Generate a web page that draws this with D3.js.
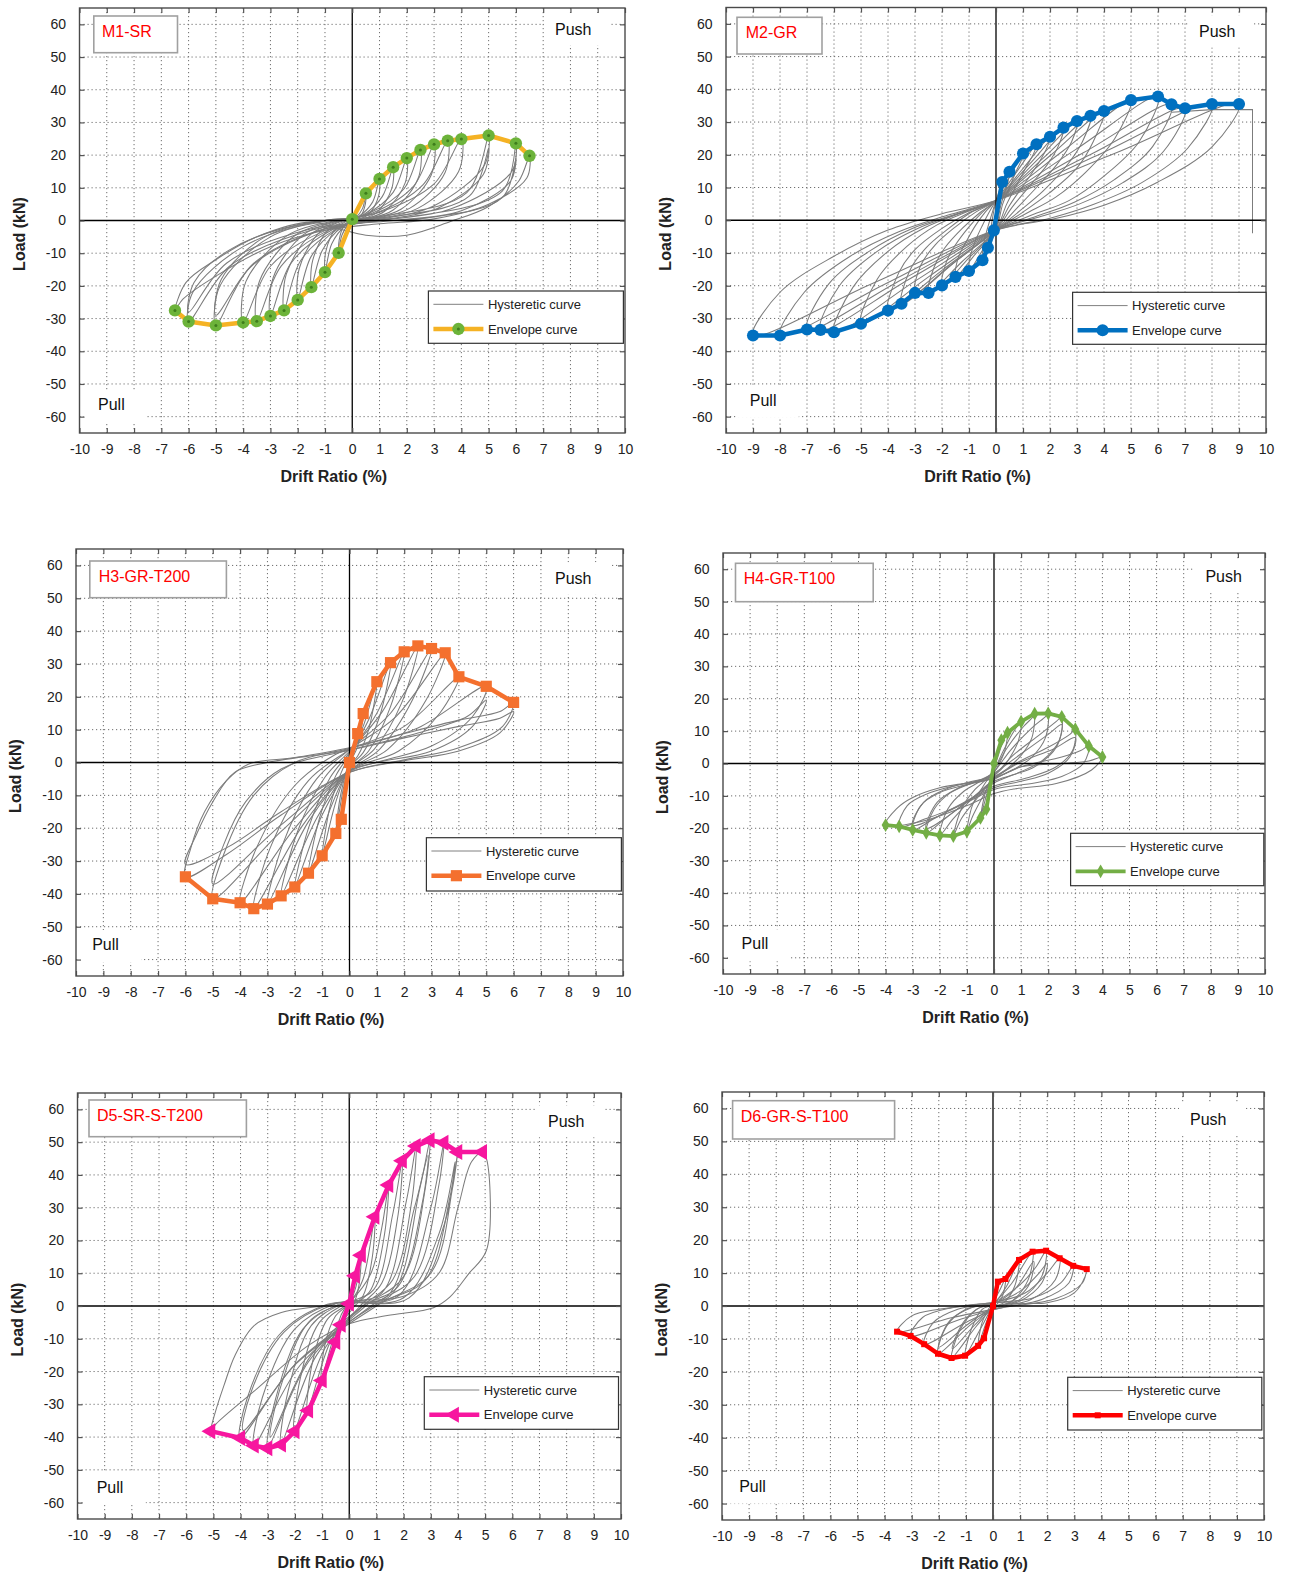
<!DOCTYPE html>
<html>
<head>
<meta charset="utf-8">
<script src="https://cdn.jsdelivr.net/npm/d3@7"></script>
<style>
  body { margin: 0; background: #fff; }
  svg { display: block; font-family: "Liberation Sans", Arial, sans-serif; }
</style>
</head>
<body>
<svg id="chart" width="1290" height="1578"></svg>
<script>
// ---- axis ticks ----
const driftTicks = [-10,-9,-8,-7,-6,-5,-4,-3,-2,-1,0,1,2,3,4,5,6,7,8,9,10];
const loadTicks = [-60,-50,-40,-30,-20,-10,0,10,20,30,40,50,60];

// ---- envelope curves (drift %, load kN) ----
const m1Drift = [-6.5,-6,-5,-4,-3.5,-3,-2.5,-2,-1.5,-1,-0.5,0,0.5,1,1.5,2,2.5,3,3.5,4,5,6,6.5];
const m1Load  = [-27.5,-30.9,-32.1,-31.2,-30.8,-29.2,-27.5,-24.3,-20.4,-15.8,-9.9,0.4,8.3,12.7,16.3,19.1,21.6,23.3,24.4,24.9,26,23.6,19.8];

const m2Drift = [-9,-8,-7,-6.5,-6,-5,-4,-3.5,-3,-2.5,-2,-1.5,-1,-0.5,-0.3,-0.08,0.23,0.5,1,1.5,2,2.5,3,3.5,4,5,6,6.5,7,8,9];
const m2Load  = [-35.2,-35.2,-33.4,-33.5,-34.2,-31.6,-27.6,-25.5,-22.2,-22.2,-19.9,-17.3,-15.5,-12.2,-8.4,-3.1,11.7,14.8,20.4,23.2,25.5,28.3,30.3,31.9,33.4,36.7,37.8,35.4,34.2,35.5,35.5];

const h3Drift = [-6,-5,-4,-3.5,-3,-2.5,-2,-1.5,-1,-0.5,-0.3,0,0.3,0.5,1,1.5,2,2.5,3,3.5,4,5,6];
const h3Load  = [-34.8,-41.5,-42.7,-44.5,-43.1,-40.6,-37.9,-33.7,-28.4,-21.6,-17.3,0,8.8,14.9,24.6,30.4,33.7,35.5,34.7,33.4,26.1,23.2,18.3];

const h4Drift = [-4,-3.5,-3,-2.5,-2,-1.5,-1,-0.5,-0.28,0,0.27,0.5,1,1.5,2,2.5,3,3.5,4];
const h4Load  = [-19,-19.4,-20.5,-21.4,-22.2,-22.4,-21,-16.8,-14.1,0,7.2,9.5,12.9,15.4,15.5,14.4,10.6,5.4,2];

const d5Drift = [-5.1,-4,-3.5,-3,-2.5,-2,-1.5,-1,-0.5,-0.3,0,0.22,0.44,0.94,1.45,1.95,2.46,2.97,3.48,3.99,4.9];
const d5Load  = [-38.2,-40.3,-42.6,-43.4,-42.3,-38.2,-31.9,-22.7,-11,-5.7,0.7,9.2,15.5,27.2,36.9,44.3,48.8,50.6,49.8,47,47];

const d6Drift = [-3.54,-3.04,-2.54,-2.03,-1.53,-1.03,-0.55,-0.33,0,0.18,0.46,0.96,1.46,1.96,2.46,2.96,3.46];
const d6Load  = [-7.8,-9.1,-11.6,-14.5,-15.8,-15.1,-12.1,-9.8,0,7.4,8.2,14,16.5,16.8,14.5,12.2,11.2];

// ---- hysteretic loops: one closed loop per load cycle, [drift, load] vertices ----
const m1Loops = [
  [[0.5,8.3],[0.48,5],[0.3,1.2],[0.08,0],[-0.12,-1],[-0.38,-4.5],[-0.5,-9.9],[-0.48,-6],[-0.3,-1.5],[-0.08,0],[0.12,0.8],[0.38,3.7]],
  [[1,12.7],[0.97,7.6],[0.6,1.9],[0.15,0],[-0.25,-1.6],[-0.75,-7.1],[-1,-15.8],[-0.97,-9.5],[-0.6,-2.4],[-0.15,0],[0.25,1.3],[0.75,5.7]],
  [[1.5,16.3],[1.45,9.8],[0.9,2.4],[0.2,0],[-0.38,-2],[-1.1,-9.2],[-1.5,-20.4],[-1.45,-12.2],[-0.9,-3.1],[-0.2,0],[0.38,1.6],[1.1,7.3]],
  [[2,19.1],[1.94,11.5],[1.2,2.9],[0.3,0],[-0.5,-2.4],[-1.5,-10.9],[-2,-24.3],[-1.94,-14.6],[-1.2,-3.6],[-0.3,0],[0.5,1.9],[1.5,8.6]],
  [[2.5,21.6],[2.42,13],[1.5,3.2],[0.38,0],[-0.62,-2.8],[-1.9,-12.4],[-2.5,-27.5],[-2.42,-16.5],[-1.5,-4.1],[-0.38,0],[0.62,2.2],[1.9,9.7]],
  [[3,23.3],[2.9,14],[1.8,3.5],[0.45,0],[-0.75,-2.9],[-2.25,-13.1],[-3,-29.2],[-2.9,-17.5],[-1.8,-4.4],[-0.45,0],[0.75,2.3],[2.25,10.5]],
  [[3.5,24.4],[3.4,14.6],[2.1,3.7],[0.5,0],[-0.9,-3.1],[-2.6,-13.9],[-3.5,-30.8],[-3.4,-18.5],[-2.1,-4.6],[-0.5,0],[0.9,2.4],[2.6,11]],
  [[4,24.9],[3.9,15],[2.4,3.7],[0.6,0],[-1,-3.1],[-3,-14],[-4,-31.2],[-3.9,-18.7],[-2.4,-4.7],[-0.6,0],[1,2.5],[3,11.2]],
  [[5,26],[4.85,17],[3,4.5],[0.8,0],[-1.25,-3.2],[-3.75,-14.4],[-5,-32.1],[-4.85,-20],[-3,-5],[-0.8,0],[1.25,1.5],[4.2,8.5]],
  [[5,22],[4.8,14],[3.2,4],[1,0],[-1.2,-3],[-3.6,-13],[-5,-29],[-4.8,-18],[-3.2,-5],[-1,0],[1.5,1.2],[4.3,7.5]],
  [[6,23.6],[5.85,15],[3.6,3.5],[1,0],[-1.5,-3],[-4.5,-14],[-6,-30.9],[-5.85,-22],[-4,-8],[-1,0],[2,1],[5.5,9]],
  [[6,19],[5.8,12],[4,3],[1.5,0],[-1.5,-2.5],[-4.6,-13],[-6,-28],[-5.8,-19],[-4.5,-9],[-1.5,-0.5],[2.5,0.5],[5.5,7]],
  [[6.5,19.8],[6.4,13],[5,5],[3,0.5],[1,-1],[-1,-3],[-3,-8],[-5,-17],[-6.2,-24],[-6.5,-27.5],[-6.1,-19],[-5,-12],[-3.5,-5],[-1.5,-0.5],[-0.5,-2.5],[0.5,-4.5],[2,-4.5],[3.6,-0.3],[5,4.3],[6.1,12]]
];

const m2Loops = [
  [[0.23,11.7],[0.1,8.5],[0,6],[-0.1,2],[-0.2,-3],[-0.3,-8.4],[-0.15,-5.5],[0,-3],[0.08,2],[0.17,7]],
  [[0.5,14.8],[0.25,10.4],[0,6],[-0.15,2],[-0.3,-2],[-0.45,-7],[-0.5,-12.2],[-0.25,-7.6],[0,-3],[0.15,3.5],[0.3,8],[0.45,12]],
  [[1,20.4],[0.5,13.2],[0,6],[-0.25,2.5],[-0.5,-1.5],[-0.75,-6],[-0.95,-11],[-1,-15.5],[-0.5,-9.2],[0,-3],[0.25,5],[0.5,10],[0.75,15],[0.95,18.5]],
  [[1.5,23.2],[0.75,14.6],[0,6],[-0.4,2.5],[-0.75,-1.5],[-1.1,-6.5],[-1.4,-11.5],[-1.5,-17.3],[-0.75,-10.2],[0,-3],[0.4,5],[0.75,10.5],[1.1,16],[1.4,20.5]],
  [[2,25.5],[1,15.8],[0,6],[-0.5,2.5],[-1,-2],[-1.5,-7.5],[-1.85,-13],[-2,-19.9],[-1,-11.5],[0,-3],[0.5,4.5],[1,10.5],[1.5,16.5],[1.85,21.5]],
  [[2.5,28.3],[1.25,17.2],[0,6],[-0.6,2.3],[-1.25,-2.5],[-1.9,-8.5],[-2.3,-14.5],[-2.5,-22.2],[-1.25,-12.6],[0,-3],[0.6,4],[1.25,10.5],[1.9,17],[2.3,22.5]],
  [[3,30.3],[1.5,18.2],[0,6],[-0.75,2.5],[-1.5,-2],[-2.25,-7.5],[-2.8,-14],[-3,-22.2],[-1.5,-12.6],[0,-3],[0.75,3.5],[1.5,10],[2.25,17],[2.8,24]],
  [[3.5,31.9],[1.75,19],[0,6],[-0.9,2.5],[-1.75,-2.5],[-2.6,-8.5],[-3.2,-15.5],[-3.5,-25.5],[-1.75,-14.2],[0,-3],[0.9,3],[1.75,9],[2.6,16.5],[3.2,24]],
  [[4,33.4],[2,19.7],[0,6],[-1,2.3],[-2,-2.5],[-3,-9],[-3.6,-16],[-4,-27.6],[-2,-15.3],[0,-3],[1,2.5],[2,8.5],[3,16],[3.6,24]],
  [[5,36.7],[2.5,21.3],[0,6],[-1.1,2.5],[-2.2,-1.5],[-3.3,-8],[-4.4,-18],[-5,-31.6],[-2.5,-17.3],[0,-3],[1.1,2],[2.2,7],[3.3,14.5],[4.4,25]],
  [[6,37.8],[3,21.9],[0,6],[-1.3,2.2],[-2.7,-2.5],[-4,-9.5],[-5.3,-20.5],[-6,-34.2],[-3,-18.6],[0,-3],[1.3,1.5],[2.7,6],[4,13.5],[5.3,24]],
  [[6.5,35.4],[3.25,20.7],[0,6],[-1.4,2],[-2.9,-2.5],[-4.4,-9.5],[-5.8,-20],[-6.5,-33.5],[-3.25,-18.2],[0,-3],[1.5,1.2],[2.9,5.5],[4.4,12.5],[5.8,22.5]],
  [[7,34.2],[3.5,20.1],[0,6],[-1.5,1.8],[-3.1,-2.5],[-4.7,-9.5],[-6.2,-19.5],[-7,-33.4],[-3.5,-18.2],[0,-3],[1.6,1],[3.1,5],[4.7,11.5],[6.2,21]],
  [[8,35.5],[4,20.8],[0,6],[-1.8,1.5],[-3.6,-3.5],[-5.4,-11],[-7.1,-22],[-8,-35.2],[-4,-19],[0,-3],[2,0.6],[3.6,4.8],[5.4,11.5],[7.1,22]],
  [[9,35.5],[4.5,20.8],[0,6],[-2,2],[-4,-3],[-6,-11],[-8,-22],[-9,-35.2],[-4.5,-19],[0,-3],[2.2,0.5],[4,4.6],[6,11.7],[8,22.4]]
];
// final push excursion and its drop at the end of the M2 test
const m2Tail = [[6.5,33],[8,33.8],[9.5,33.8],[9.5,-4]];

const h3Loops = [
  [[0.3,8.8],[0.15,3],[0,0],[-0.15,-7],[-0.3,-17.3],[-0.2,-9],[0,0.5],[0.15,5]],
  [[0.5,14.9],[0.3,5],[0,-0.5],[-0.25,-9],[-0.5,-21.6],[-0.35,-11],[0,1],[0.25,7.5]],
  [[1,24.6],[0.7,10],[0.3,2],[0,-1],[-0.5,-12],[-1,-28.4],[-0.7,-13],[-0.3,-3],[0,2],[0.5,11]],
  [[1.5,30.4],[1.1,14],[0.5,3],[0,-1.5],[-0.7,-14],[-1.5,-33.7],[-1.1,-17],[-0.5,-4],[0,2.5],[0.7,13]],
  [[2,33.7],[1.5,17],[0.7,3.5],[0,-2],[-1,-16],[-2,-37.9],[-1.5,-20],[-0.7,-4.5],[0,3],[1,15]],
  [[2.5,35.5],[1.9,18],[0.9,4],[0,-2],[-1.2,-17],[-2.5,-40.6],[-1.9,-21],[-0.9,-4.5],[0,3.5],[1.2,15.5]],
  [[3,34.7],[2.3,19],[1.1,4],[0,-2.5],[-1.5,-18],[-3,-43.1],[-2.4,-24],[-1.2,-5],[0,4],[1.5,15]],
  [[3.5,33.4],[2.8,19],[1.4,4],[0,-2.5],[-1.7,-19],[-3.5,-44.5],[-2.9,-26],[-1.5,-5.5],[0,4],[1.7,14]],
  [[4,26.1],[3.3,15],[1.8,3.5],[0,-2.5],[-2,-20],[-4,-42.7],[-3.4,-26],[-2,-7],[-0.5,2.5],[0,4.2],[2,11]],
  [[5,23.2],[4.5,14],[3,5],[1.2,0.5],[0,-2.8],[-2.5,-21],[-5,-41.5],[-4.6,-28],[-3.5,-10],[-2,0],[0,4.3],[2.5,10.5]],
  [[5,19],[4.5,11],[3,3.5],[1,0],[0,-2.5],[-2.5,-19],[-5,-37],[-4.6,-25],[-3.8,-12],[-2.5,-2],[0,3.8],[2.5,9],[4.3,14]],
  [[6,18.3],[5.6,11],[4,4.5],[2,0.8],[0,-3],[-2.5,-16],[-4.5,-28],[-6,-34.8],[-5.8,-26],[-5.3,-15],[-4.5,-5.5],[-3.7,-0.5],[-2,1.5],[0,4.5],[2,8.8],[4,12.9],[5.5,15.5]],
  [[6,15.5],[5.5,9],[4,3.5],[2,0.5],[0,-3],[-2.5,-15],[-4.5,-26],[-6,-31],[-5.6,-22],[-5,-12],[-4.2,-3],[-3,0],[-1,2.5],[0,3.8],[2,7.5],[4,11],[5.5,13.5]]
];

const h4Loops = [
  [[0.5,9.5],[0.4,4],[0.2,0],[0,-3],[-0.25,-9],[-0.5,-16.8],[-0.35,-10],[-0.1,-4],[0.1,1],[0.3,6]],
  [[1,12.9],[0.9,7],[0.6,2],[0.3,-1.5],[0,-4],[-0.4,-10],[-0.8,-16.5],[-1,-21],[-0.8,-13],[-0.4,-7],[0,-2],[0.35,4],[0.7,9.5]],
  [[1.5,15.4],[1.4,8],[1,2.5],[0.5,-1.5],[0,-4.5],[-0.6,-10.5],[-1.2,-17],[-1.5,-22.4],[-1.2,-14],[-0.7,-8],[-0.3,-5],[0,-2],[0.5,5],[1.1,11.5],[1.45,14.5]],
  [[2,15.5],[1.9,8],[1.4,2],[0.8,-1.5],[0,-5],[-0.7,-10],[-1.5,-17],[-2,-22.2],[-1.7,-14],[-1.1,-8.5],[-0.5,-5.5],[0,-2.5],[0.6,4],[1.4,11],[1.9,14.5]],
  [[2.5,14.4],[2.4,7],[1.8,1],[1,-2.5],[0,-6],[-0.8,-10.5],[-1.8,-17],[-2.5,-21.4],[-2.2,-14],[-1.6,-9],[-0.8,-6],[0,-3.5],[0.7,2.5],[1.7,9],[2.3,13]],
  [[2.5,12],[2.3,5],[1.5,-1],[0.7,-3.5],[0,-5.5],[-1,-12],[-2.5,-20],[-2.1,-12],[-1.3,-7.5],[-0.5,-5],[0,-3],[1,3],[2,9]],
  [[3,10.6],[2.9,4],[2.3,-1],[1.2,-4.5],[0,-7],[-1,-11.5],[-2.2,-17],[-3,-20.5],[-2.7,-13],[-2,-9],[-1,-6.5],[0,-4.5],[0.8,0],[2,5],[2.8,9]],
  [[3,8],[2.8,2],[2,-3],[1,-5.5],[0,-7.5],[-1.5,-14],[-3,-19],[-2.6,-12],[-1.8,-8],[-0.8,-5.5],[0,-4],[1,0.5],[2.2,4.5]],
  [[3.5,5.4],[3.3,0],[2.5,-4],[1.5,-6],[0,-8],[-1,-12],[-2.5,-17],[-3.5,-19.4],[-3.2,-13],[-2.5,-9.5],[-1.5,-7],[0,-4.5],[1,-1],[2.5,2],[3.2,4]],
  [[4,2],[3.6,-2],[2.3,-6.2],[0.8,-7.8],[0,-9.3],[-1,-13],[-2.5,-17.5],[-4,-19],[-3.6,-14],[-3,-10.5],[-2,-7.5],[-1,-6],[0,-4.5],[1,-1],[2.5,0],[3.5,0.8]]
];

const d5Loops = [
  [[0.22,9.2],[0.1,3],[0,-0.5],[-0.15,-3],[-0.31,-5.7],[-0.15,-2],[0,0.5],[0.12,5]],
  [[0.44,15.5],[0.35,6],[0.15,0.5],[0,-1],[-0.3,-5],[-0.53,-11],[-0.4,-5],[-0.15,-0.5],[0,0.8],[0.25,6]],
  [[0.94,27.2],[0.85,15],[0.5,3],[0.1,0],[-0.5,-8],[-1.03,-22.7],[-0.9,-12],[-0.5,-3],[0,0.8],[0.5,8]],
  [[1.45,36.9],[1.3,22],[0.8,5],[0.2,0],[-0.7,-11],[-1.54,-31.9],[-1.35,-17],[-0.8,-4],[0,1],[0.8,10],[1.2,24]],
  [[1.95,44.3],[1.8,28],[1.2,7],[0.4,0],[-0.9,-13],[-2.03,-38.2],[-1.8,-22],[-1.1,-5],[-0.2,0.5],[0.9,5],[1.6,28]],
  [[2.46,48.8],[2.3,32],[1.6,8],[0.5,0],[-1.2,-15],[-2.52,-42.3],[-2.25,-26],[-1.4,-6],[-0.3,0.5],[1.2,4],[2.1,32]],
  [[2.9,46],[2.7,32],[1.8,6],[0.5,0],[-1.4,-15],[-2.9,-40],[-2.5,-24],[-1.5,-5],[-0.3,0.5],[1.4,3],[2.4,30]],
  [[2.97,50.6],[2.8,36],[2,9],[0.6,0],[-1.5,-17],[-3.01,-43.4],[-2.7,-28],[-1.7,-7],[-0.4,0.5],[1.5,3],[2.6,36]],
  [[3.48,49.8],[3.3,37],[2.4,9],[0.8,0],[-1.8,-18],[-3.51,-42.6],[-3.2,-28],[-2,-7],[-0.5,0.7],[1.8,3],[3,30]],
  [[3.9,44],[3.7,33],[2.8,8],[0.9,0],[-1.9,-17],[-3.9,-38],[-3.6,-26],[-2.4,-8],[-0.7,0.5],[2,2.5],[3.3,22]],
  [[3.99,47],[3.8,36],[3,10],[1,0],[-2,-18],[-4.02,-40.3],[-3.75,-28],[-2.6,-9],[-0.8,0.5],[2.2,2.5],[3.5,25],[3.9,42]],
  [[4.9,47],[5.05,45],[5.05,17],[4.4,9.9],[3.7,2.7],[3.1,-0.5],[1.4,-2.9],[0,-5.4],[-1.5,-12],[-3.5,-26],[-4.9,-36],[-5.1,-38.2],[-4.95,-33],[-4.6,-24],[-4.2,-15],[-3.5,-6],[-2.5,-2],[-1,0],[0,1.5],[2,3],[3.3,10],[4,30],[4.5,44]]
];

const d6Loops = [
  [[0.46,8.2],[0.35,3],[0.1,0],[-0.2,-4],[-0.55,-12.1],[-0.4,-5],[-0.1,0],[0.2,4]],
  [[0.96,14],[0.8,6],[0.4,1],[0,-0.5],[-0.4,-6],[-1.03,-15.1],[-0.8,-7],[-0.4,-1],[0,0.5],[0.5,6]],
  [[1.5,13.5],[1.3,6],[0.6,1],[0,-0.5],[-0.7,-6],[-1.5,-13],[-1.1,-5],[-0.5,-0.5],[0,0.6],[0.8,5]],
  [[1.46,16.5],[1.3,8],[0.7,1.5],[0,-0.8],[-0.6,-6],[-1.53,-15.8],[-1.2,-7],[-0.6,-1],[0,0.8],[0.7,7]],
  [[2,13],[1.8,7],[1,1.5],[0,-0.5],[-1,-6],[-2,-12.5],[-1.6,-4.5],[-0.8,-0.5],[0,0.8],[1,4.5],[1.7,10]],
  [[1.96,16.8],[1.8,9],[1,2],[0.1,-0.5],[-0.8,-5.5],[-2.03,-14.5],[-1.7,-6],[-1,-1],[0,1],[1,6.5],[1.6,12]],
  [[2.46,14.5],[2.3,8],[1.4,2],[0.2,-0.5],[-1,-5],[-2.54,-11.6],[-2.2,-5],[-1.3,-1],[0,1],[1.2,4],[2,10]],
  [[2.96,12.2],[2.8,7],[1.8,2],[0.3,-0.5],[-1.2,-4],[-3.04,-9.1],[-2.6,-3.5],[-1.5,-0.5],[0,1],[1.5,2.5],[2.5,7]],
  [[3.46,11.2],[3.3,7],[2.3,2.2],[0.5,-0.3],[-1.5,-3.5],[-3.54,-7.8],[-3,-3],[-2,-1],[-1,0],[0,1],[2,1],[3,4],[3.4,9]]
];

// ---- panel layout and styling ----
const panels = [
  { tag: "M1-SR", drift: m1Drift, load: m1Load, loops: m1Loops, tails: [],
    frame: [79.5, 625, 8, 433], tagBox: [93.8, 16, 83.7, 36.7], tagText: [102, 36.5],
    push: [555, 35], pull: [98, 410], legend: [428.4, 291, 195, 52.3],
    line: "#F5B224", lineW: 4.5, marker: "circle", mFill: "#6CB33A", mSize: 120, dot: "#3E7D1C" },
  { tag: "M2-GR", drift: m2Drift, load: m2Load, loops: m2Loops, tails: [m2Tail],
    frame: [726, 1266, 7.5, 433], tagBox: [737, 17.3, 85, 36.7], tagText: [745.7, 37.5],
    push: [1199, 37.3], pull: [749.8, 405.7], legend: [1072.6, 292.3, 193.4, 52],
    line: "#0070C0", lineW: 4.5, marker: "circle", mFill: "#0070C0", mSize: 115 },
  { tag: "H3-GR-T200", drift: h3Drift, load: h3Load, loops: h3Loops, tails: [],
    frame: [76, 623, 549, 976], tagBox: [89.8, 561, 136.6, 36.7], tagText: [98.7, 581.5],
    push: [555, 584.3], pull: [92.2, 950], legend: [426.4, 837.7, 195, 53.3],
    line: "#F4702E", lineW: 4.5, marker: "square", mFill: "#F4702E", mSize: 125 },
  { tag: "H4-GR-T100", drift: h4Drift, load: h4Load, loops: h4Loops, tails: [],
    frame: [723, 1265, 553, 974], tagBox: [735.5, 563.3, 137.7, 38.4], tagText: [743.7, 583.5],
    push: [1205.4, 582.3], pull: [741.6, 949.3], legend: [1070.6, 833.3, 193.2, 52.4],
    line: "#73AE45", lineW: 3.8, marker: "diamond", mFill: "#73AE45", mSize: 55 },
  { tag: "D5-SR-S-T200", drift: d5Drift, load: d5Load, loops: d5Loops, tails: [],
    frame: [77.5, 621, 1093, 1519], tagBox: [89, 1100, 157.4, 36.7], tagText: [97, 1120.5],
    push: [548, 1127.3], pull: [96.7, 1492.7], legend: [424.3, 1376.7, 194.2, 52.6],
    line: "#F7169F", lineW: 4.5, marker: "triangleLeft", mFill: "#F7169F", mSize: 110 },
  { tag: "D6-GR-S-T100", drift: d6Drift, load: d6Load, loops: d6Loops, tails: [],
    frame: [722, 1264, 1092, 1520], tagBox: [732.6, 1100.7, 162, 38.3], tagText: [740.8, 1122],
    push: [1190, 1125], pull: [739.2, 1491.7], legend: [1067.7, 1377.3, 194.1, 52.7],
    line: "#FF0000", lineW: 4.5, marker: "square", mFill: "#FF0000", mSize: 36 }
];

const svg = d3.select("#chart");
svg.append("rect").attr("width", 1290).attr("height", 1578).attr("fill", "#fff");

const symbolTypes = {
  circle: d3.symbolCircle, square: d3.symbolSquare,
  diamond: d3.symbolDiamond, triangleLeft: d3.symbolTriangle
};

function drawMarker(sel, p, cx, cy) {
  const m = sel.append("path")
    .attr("d", d3.symbol(symbolTypes[p.marker], p.mSize)())
    .attr("fill", p.mFill)
    .attr("transform", `translate(${cx},${cy})` + (p.marker === "triangleLeft" ? " rotate(-90)" : ""));
  if (p.dot) {
    sel.append("circle").attr("cx", cx).attr("cy", cy).attr("r", 1.5).attr("fill", p.dot);
  }
  return m;
}

const fmt = d => String(d);

panels.forEach((p, i) => {
  const [fx0, fx1, fy0, fy1] = p.frame;
  const x = d3.scaleLinear().domain([-10, 10]).range([fx0, fx1]);
  const y = d3.scaleLinear().domain([-65, 65]).range([fy1, fy0]);
  const g = svg.append("g").attr("class", "panel");

  const clipId = "plot-clip-" + i;
  svg.append("defs").append("clipPath").attr("id", clipId)
    .append("rect").attr("x", fx0).attr("y", fy0).attr("width", fx1 - fx0).attr("height", fy1 - fy0);

  // dotted grid
  const grid = g.append("g").attr("stroke", "#6e6e6e").attr("stroke-width", 1).attr("stroke-dasharray", "1.2,2.8");
  grid.selectAll("line.gx").data(driftTicks.filter(v => v !== 0 && Math.abs(v) !== 10)).join("line")
    .attr("class", "gx")
    .attr("x1", d => x(d)).attr("x2", d => x(d)).attr("y1", fy0).attr("y2", fy1);
  grid.selectAll("line.gy").data(loadTicks.filter(v => v !== 0)).join("line")
    .attr("class", "gy")
    .attr("x1", fx0).attr("x2", fx1).attr("y1", d => y(d)).attr("y2", d => y(d));

  // white backing behind the Push / Pull notes
  g.append("rect").attr("x", p.push[0] - 11).attr("y", p.push[1] - 22).attr("width", 66).attr("height", 32).attr("fill", "#fff");
  g.append("rect").attr("x", p.pull[0] - 14).attr("y", p.pull[1] - 20).attr("width", 63).attr("height", 32).attr("fill", "#fff");

  // hysteretic loops
  const loopLine = d3.line().x(d => x(d[0])).y(d => y(d[1])).curve(d3.curveCatmullRomClosed.alpha(0.5));
  const openLine = d3.line().x(d => x(d[0])).y(d => y(d[1]));
  const hyst = g.append("g").attr("clip-path", `url(#${clipId})`)
    .attr("fill", "none").attr("stroke", "#7c7c7c").attr("stroke-width", 1.05);
  hyst.selectAll("path.loop").data(p.loops).join("path").attr("class", "loop").attr("d", loopLine);
  hyst.selectAll("path.tail").data(p.tails).join("path").attr("class", "tail").attr("d", openLine);

  // zero axes
  g.append("line").attr("x1", fx0).attr("x2", fx1).attr("y1", y(0)).attr("y2", y(0))
    .attr("stroke", "#000").attr("stroke-width", 1.6);
  g.append("line").attr("x1", x(0)).attr("x2", x(0)).attr("y1", fy0).attr("y2", fy1)
    .attr("stroke", "#000").attr("stroke-width", 1.3);

  // envelope curve
  const env = p.drift.map((d, k) => [d, p.load[k]]);
  g.append("path").datum(env)
    .attr("fill", "none").attr("stroke", p.line).attr("stroke-width", p.lineW).attr("stroke-linejoin", "round")
    .attr("d", openLine);
  const mk = g.append("g");
  env.forEach(d => drawMarker(mk, p, x(d[0]), y(d[1])));

  // axes with inward ticks
  const axisStyle = a => {
    a.select(".domain").remove();
    a.selectAll(".tick line").attr("stroke", "#555").attr("stroke-width", 1.2);
    a.selectAll(".tick text").attr("fill", "#222").attr("font-size", 14)
      .attr("font-family", "'Liberation Sans', Arial, sans-serif");
  };
  g.append("g").attr("transform", `translate(0,${fy1})`)
    .call(d3.axisBottom(x).tickValues(driftTicks).tickFormat(fmt).tickSize(-5).tickPadding(11)).call(axisStyle);
  g.append("g").attr("transform", `translate(0,${fy0})`)
    .call(d3.axisTop(x).tickValues(driftTicks).tickFormat("").tickSize(-5)).call(axisStyle);
  g.append("g").attr("transform", `translate(${fx0},0)`)
    .call(d3.axisLeft(y).tickValues(loadTicks).tickFormat(fmt).tickSize(-5).tickPadding(13.5)).call(axisStyle);
  g.append("g").attr("transform", `translate(${fx1},0)`)
    .call(d3.axisRight(y).tickValues(loadTicks).tickFormat("").tickSize(-5)).call(axisStyle);

  // frame
  g.append("rect").attr("x", fx0).attr("y", fy0).attr("width", fx1 - fx0).attr("height", fy1 - fy0)
    .attr("fill", "none").attr("stroke", "#4a4a4a").attr("stroke-width", 1.4);

  // axis titles
  g.append("text").attr("x", (fx0 + fx1) / 2 - 18.5).attr("y", fy1 + 48.5)
    .attr("text-anchor", "middle").attr("font-size", 16).attr("font-weight", "bold").attr("fill", "#222")
    .text("Drift Ratio (%)");
  const ty = (fy0 + fy1) / 2 + 13.5;
  g.append("text").attr("transform", `translate(${fx0 - 55},${ty}) rotate(-90)`)
    .attr("text-anchor", "middle").attr("font-size", 16).attr("font-weight", "bold").attr("fill", "#222")
    .text("Load (kN)");

  // specimen tag
  g.append("rect").attr("x", p.tagBox[0]).attr("y", p.tagBox[1]).attr("width", p.tagBox[2]).attr("height", p.tagBox[3])
    .attr("fill", "#fff").attr("stroke", "#a0a0a0").attr("stroke-width", 1.6);
  g.append("text").attr("x", p.tagText[0]).attr("y", p.tagText[1])
    .attr("font-size", 16).attr("fill", "#FF0000").text(p.tag);

  // loading direction notes
  g.append("text").attr("x", p.push[0]).attr("y", p.push[1]).attr("font-size", 16).attr("fill", "#111").text("Push");
  g.append("text").attr("x", p.pull[0]).attr("y", p.pull[1]).attr("font-size", 16).attr("fill", "#111").text("Pull");

  // legend
  const [lx, ly, lw, lh] = p.legend;
  const lg = g.append("g");
  lg.append("rect").attr("x", lx).attr("y", ly).attr("width", lw).attr("height", lh)
    .attr("fill", "#fff").attr("stroke", "#333").attr("stroke-width", 1.2);
  const r1 = ly + 13.3, r2 = ly + 38;
  lg.append("line").attr("x1", lx + 5).attr("x2", lx + 55).attr("y1", r1).attr("y2", r1)
    .attr("stroke", "#808080").attr("stroke-width", 1);
  lg.append("line").attr("x1", lx + 5).attr("x2", lx + 55).attr("y1", r2).attr("y2", r2)
    .attr("stroke", p.line).attr("stroke-width", p.lineW);
  drawMarker(lg, p, lx + 30, r2);
  lg.append("text").attr("x", lx + 59.5).attr("y", r1 + 4.5).attr("font-size", 13).attr("fill", "#222").text("Hysteretic curve");
  lg.append("text").attr("x", lx + 59.5).attr("y", r2 + 4.5).attr("font-size", 13).attr("fill", "#222").text("Envelope curve");
});
</script>
</body>
</html>
